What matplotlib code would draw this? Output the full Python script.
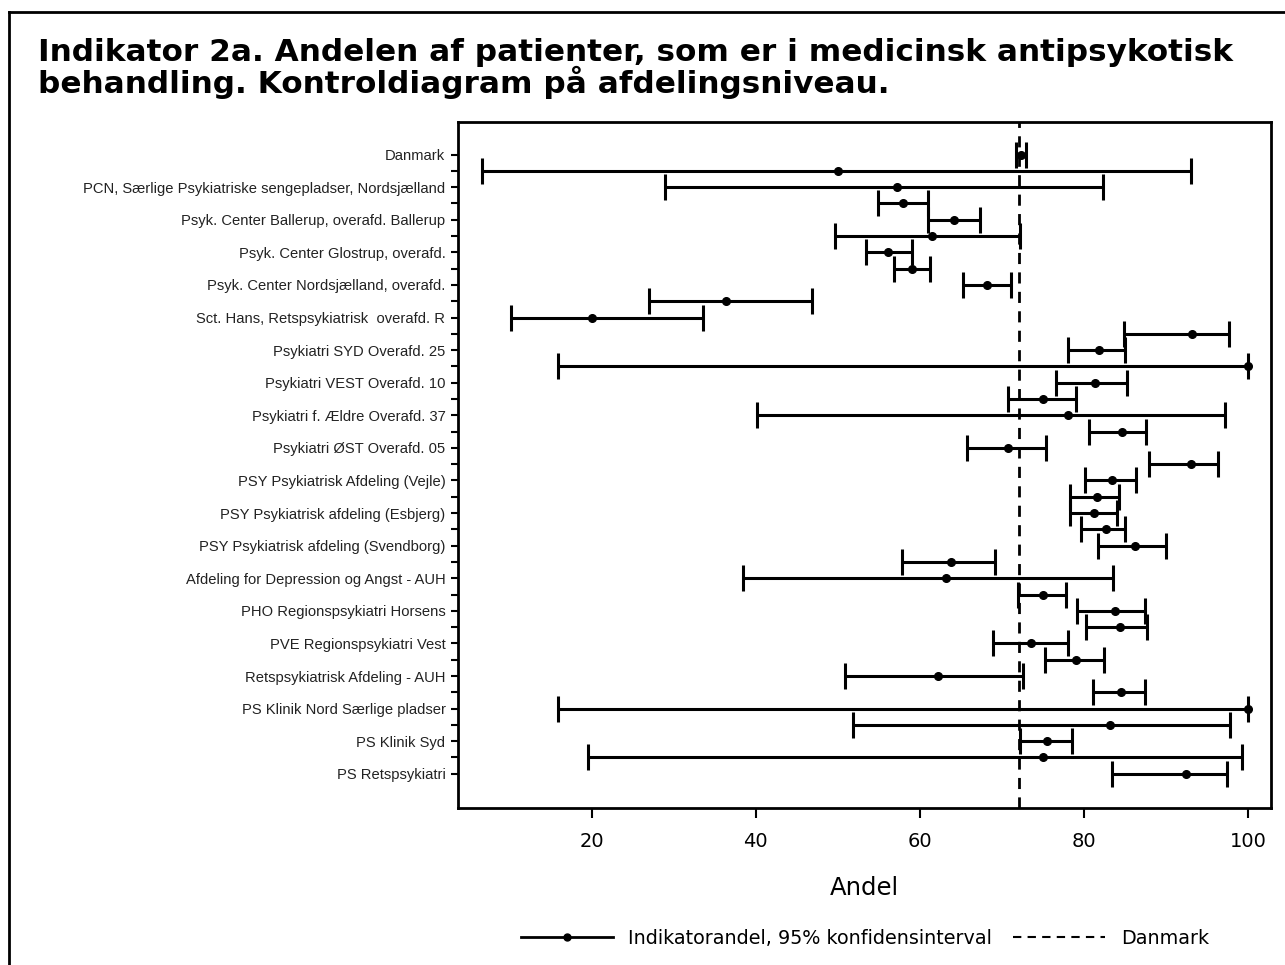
import numpy as np
import matplotlib
matplotlib.use('Agg')
import matplotlib.pyplot as plt
from matplotlib.lines import Line2D

# ------------------------------------------------------------------
# data
# ------------------------------------------------------------------
enheder = ['Danmark', '',
           'PCN, Særlige Psykiatriske sengepladser, Nordsjælland', '',
           'Psyk. Center Ballerup, overafd. Ballerup', '',
           'Psyk. Center Glostrup, overafd.', '',
           'Psyk. Center Nordsjælland, overafd.', '',
           'Sct. Hans, Retspsykiatrisk  overafd. R', '',
           'Psykiatri SYD Overafd. 25', '',
           'Psykiatri VEST Overafd. 10', '',
           'Psykiatri f. Ældre Overafd. 37', '',
           'Psykiatri ØST Overafd. 05', '',
           'PSY Psykiatrisk Afdeling (Vejle)', '',
           'PSY Psykiatrisk afdeling (Esbjerg)', '',
           'PSY Psykiatrisk afdeling (Svendborg)', '',
           'Afdeling for Depression og Angst - AUH', '',
           'PHO Regionspsykiatri Horsens', '',
           'PVE Regionspsykiatri Vest', '',
           'Retspsykiatrisk Afdeling - AUH', '',
           'PS Klinik Nord Særlige pladser', '',
           'PS Klinik Syd', '',
           'PS Retspsykiatri']

andel = [72.3, 50.0, 57.2, 57.9, 64.2, 61.5, 56.1, 59.0, 68.2, 36.4,
         20.0, 93.2, 81.8, 100.0, 81.3, 75.0, 78.0, 84.6, 70.7, 93.0,
         83.4, 81.6, 81.2, 82.7, 86.2, 63.8, 63.2, 75.0, 83.8, 84.4,
         73.6, 79.0, 62.2, 84.5, 100.0, 83.2, 75.5, 75.0, 92.4]
nedre = [71.7, 6.6, 28.9, 54.9, 61.0, 49.6, 53.4, 56.9, 65.2, 27.0,
         10.1, 84.9, 78.1, 15.9, 76.6, 70.7, 40.1, 80.6, 65.7, 87.9,
         80.1, 78.3, 78.3, 79.7, 81.7, 57.8, 38.5, 72.0, 79.1, 80.2,
         68.9, 75.3, 50.9, 81.1, 15.9, 51.8, 72.2, 19.6, 83.4]
oevre = [72.9, 93.1, 82.3, 61.0, 67.3, 72.2, 59.0, 61.2, 71.1, 46.9,
         33.6, 97.7, 85.0, 100.0, 85.3, 79.0, 97.2, 87.6, 75.4, 96.4,
         86.3, 84.3, 84.0, 85.0, 90.0, 69.2, 83.6, 77.8, 87.5, 87.7,
         78.0, 82.5, 72.6, 87.4, 100.0, 97.8, 78.5, 99.3, 97.4]
danmark = 72.1

titel = ['Indikator 2a. Andelen af patienter, som er i medicinsk antipsykotisk',
         'behandling. Kontroldiagram på afdelingsniveau.']

andel = np.array(andel)
nedre = np.array(nedre)
oevre = np.array(oevre)
ypos = np.arange(len(andel))

#==============================================================================
# figure
#==============================================================================
fig = plt.figure(figsize=(12.85, 9.65), dpi=100)

# outer frame (only left/top edge visible in the reference)
fig.add_artist(Line2D([9/1285., 9/1285.], [0, 1-12/965.], color='black', lw=2))
fig.add_artist(Line2D([9/1285., 1], [1-12/965., 1-12/965.], color='black', lw=2))

for i, linje in enumerate(titel):
    fig.text(38/1285., 1-(61+32*i)/965., linje, fontsize=22.4, fontweight='bold',
             ha='left', va='baseline', family='DejaVu Sans')

ax = fig.add_axes([458/1285., 1-808/965., (1271-458)/1285., (808-122)/965.])

ax.errorbar(andel, ypos, xerr=[andel-nedre, oevre-andel], fmt='o', color='black',
            ms=5.5, capsize=9.5, elinewidth=2.2, capthick=2.2, zorder=3)
ax.axvline(danmark, color='black', lw=2, ls=(0, (4, 3)), zorder=2)

ax.set_xlim(3.7, 102.8)
ax.set_ylim(40.1, -2.0)
ax.set_yticks(ypos)
ax.set_yticklabels(enheder, family='Liberation Sans', fontsize=10.6, color='#222222')
ax.set_xticks([20, 40, 60, 80, 100])
ax.tick_params(axis='x', labelsize=14, length=7, width=1.5, pad=10)
ax.tick_params(axis='y', length=5, width=1.5, pad=4)
ax.set_xlabel('Andel', fontsize=17.5, labelpad=18)
for s in ax.spines.values():
    s.set_linewidth(2)

h1 = Line2D([], [], color='black', lw=2, marker='o', ms=5)
h2 = Line2D([], [], color='black', lw=1.5, ls=(0, (4, 3)))
fig.legend([h1, h2], ['Indikatorandel, 95% konfidensinterval', 'Danmark'],
           loc='center', bbox_to_anchor=(865/1285., 1-938/965.), ncol=2,
           frameon=False, fontsize=13.8, handlelength=4.8, numpoints=1,
           columnspacing=1.1, handletextpad=0.8)

plt.savefig('out.png', dpi=100)
